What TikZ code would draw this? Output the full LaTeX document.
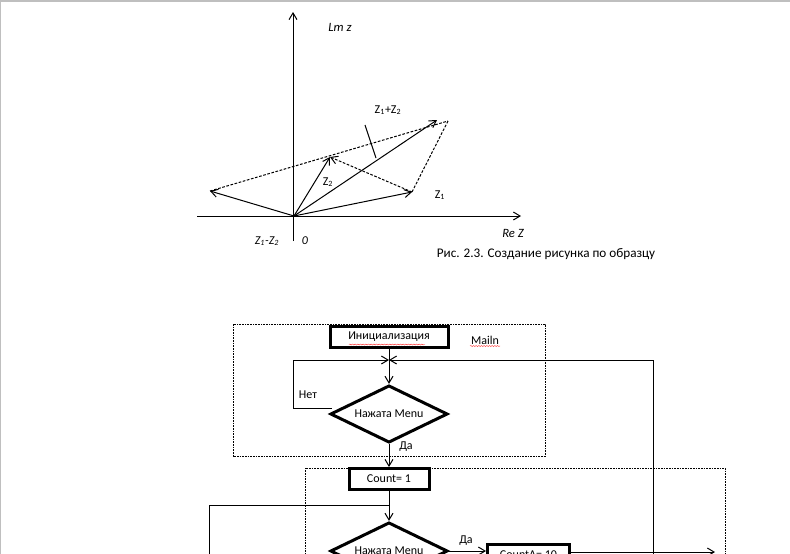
\documentclass[tikz,border=0pt]{standalone}
\usepackage{fontspec}
\setmainfont{Carlito}
\usetikzlibrary{shapes.geometric,arrows.meta,calc,decorations.pathmorphing}
\begin{document}
\begin{tikzpicture}[x=0.75pt,y=-0.75pt,
  every node/.style={font=\fontsize{9}{11}\selectfont, inner sep=0pt},
  thinln/.style={line width=0.75pt},
  arr/.style={thinln, -{Straight Barb[length=5pt,width=6pt]}},
  dsh/.style={thinln, dash pattern=on 2pt off 1.2pt},
  boxdash/.style={line width=0.6pt, dash pattern=on 1.2pt off 0.8pt},
  procbox/.style={draw, line width=2.25pt, rectangle, minimum height=15.75pt},
  decbox/.style={draw, line width=2.25pt, diamond, shape aspect=2, minimum width=88pt, minimum height=43pt},
  spell/.style={red!80, line width=0.35pt, decorate, decoration={snake, amplitude=0.35pt, segment length=2pt}},
]
\useasboundingbox (0,0) rectangle (790,554);
\clip (0,0) rectangle (790,554);
\fill[white] (0,0) rectangle (790,554);
\draw[black!25, line width=1pt] (0.5,554) -- (0.5,1) -- (790,1);

% ---------- complex plane ----------
\coordinate (O) at (294,216);
\coordinate (ya0) at (293,241);
\coordinate (ya1) at (293,12);
\coordinate (xa0) at (197,216);
\coordinate (xa1) at (521,216);
\coordinate (Z1) at (412,192);
\coordinate (Z2) at (330,157);
\coordinate (S) at (448,121);
\coordinate (Sa) at (437,120);
\coordinate (D) at (210,191);
\coordinate (p0) at (365,125);
\coordinate (p1) at (376,158);

\draw[arr] (ya0) -- (ya1);
\draw[arr] (xa0) -- (xa1);
\draw[dsh] (D) -- (S);
\draw[dsh] (S) -- (Z1);
\draw[dsh, -{Straight Barb[length=5pt,width=6pt]}] (Z1) -- (Z2);
\draw[arr] (O) -- (Z1);
\draw[arr] (O) -- (Z2);
\draw[arr] (O) -- (Sa);
\draw[arr] (O) -- (D);
\draw[thinln] (p0) -- (p1);

\node[font=\fontsize{9.5}{11}\selectfont\itshape] (lm) at (340,27) {Lm z};
\node (sum) at (388,110) {Z\textsubscript{1}+Z\textsubscript{2}};
\node (lz2) at (328,182) {Z\textsubscript{2}};
\node (lz1) at (440,195) {Z\textsubscript{1}};
\node[font=\fontsize{9.5}{11}\selectfont\itshape] (re) at (513,233) {Re Z};
\node[font=\fontsize{9}{11}\selectfont\itshape] (dif) at (267,241) {Z\textsubscript{1}-Z\textsubscript{2}};
\node[font=\fontsize{9}{11}\selectfont\itshape] (zero) at (305,241) {0};
\node[font=\fontsize{9.9}{12}\selectfont] (cap) at (546,254) {Рис. 2.3. Создание рисунка по образцу};

% ---------- flowchart ----------
\draw[boxdash] (233,324) rectangle (545,456);
\draw[boxdash] (305,600) -- (305,468) -- (725,468) -- (725,600);

\node[procbox, minimum width=88.5pt] (init) at (389,337) {Инициализация};
\draw[spell] (349,344.5) -- (425,344.5);
\node (main) at (485,340) {Mailn};
\draw[spell] (470,346) -- (500,346);

\node[decbox] (d1) at (389,414) {Нажата Menu};
\node[procbox, minimum width=60pt] (c1) at (389,479) {Count= 1};
\node[decbox] (d2) at (389,551) {Нажата Menu};
\node[procbox, minimum width=61.5pt] (cA) at (528.5,555) {CountA= 10};

\coordinate (j1) at (389,360);
\coordinate (nl) at (293,408);
\coordinate (r2) at (653,600);
\coordinate (j2) at (389,505);
\coordinate (l2) at (209,600);
\coordinate (e1) at (715,552);

\draw[arr] (init.south) -- (d1.north);
\draw[arr] ($(d1.west)+(3,-6)$) -| (nl) |- (j1);
\draw[arr] (r2) |- (j1);
\node (net) at (308,395) {Нет};

\draw[arr] (d1.south) -- (c1.north);
\node (da1) at (406,447) {Да};

\draw[arr] (c1.south) -- (d2.north);
\draw[thinln] (l2) |- (j2);

\draw[arr] (d2.east) -- (cA.west |- d2.east);
\node (da2) at (466,541) {Да};
\draw[arr] (cA.east |- e1) -- (e1);
\end{tikzpicture}
\end{document}
